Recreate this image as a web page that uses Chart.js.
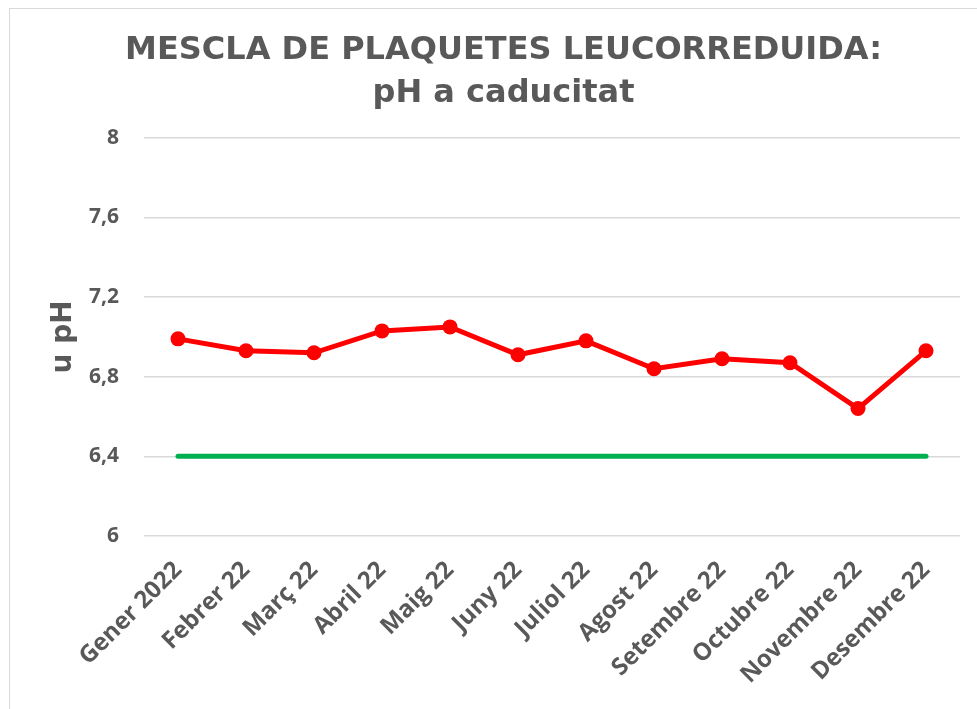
<!DOCTYPE html>
<html>
<head>
<meta charset="utf-8">
<script src="https://cdn.jsdelivr.net/npm/chart.js@4.4.1/dist/chart.umd.min.js"></script>
<style>
  html, body { margin: 0; padding: 0; background: #ffffff; }
  #wrap { position: relative; width: 977px; height: 709px; overflow: hidden; }
  #frame { position: absolute; left: 9px; top: 8px; width: 1000px; height: 800px;
           border-left: 1.5px solid #d9d9d9; border-top: 1.5px solid #d9d9d9; }
  #chart { position: absolute; left: 0; top: 0; }
</style>
</head>
<body>
<div id="wrap">
  <div id="frame"></div>
  <canvas id="chart" width="977" height="709"></canvas>
</div>
<script>
// data
var months = ['Gener 2022', 'Febrer 22', 'Març 22', 'Abril 22', 'Maig 22', 'Juny 22',
  'Juliol 22', 'Agost 22', 'Setembre 22', 'Octubre 22', 'Novembre 22', 'Desembre 22'];
var phValues = [6.99, 6.93, 6.92, 7.03, 7.05, 6.91, 6.98, 6.84, 6.89, 6.87, 6.64, 6.93];
var phLimit = [6.4, 6.4, 6.4, 6.4, 6.4, 6.4, 6.4, 6.4, 6.4, 6.4, 6.4, 6.4];
var yMin = 6, yMax = 8, yStep = 0.4;

var textGray = '#595959';

var config = {
  type: 'line',
  data: {
    labels: months,
    datasets: [
      {
        label: 'pH',
        data: phValues,
        borderColor: '#ff0000',
        backgroundColor: '#ff0000',
        borderWidth: 5,
        pointRadius: 7.5,
        pointHoverRadius: 7.5,
        pointBorderWidth: 0,
        tension: 0
      },
      {
        label: 'Límit',
        data: phLimit,
        borderColor: '#00b050',
        borderWidth: 5,
        borderCapStyle: 'round',
        pointRadius: 0,
        tension: 0
      }
    ]
  },
  options: {
    responsive: false,
    animation: false,
    layout: { padding: { top: 29, left: 47, right: 17, bottom: 0 } },
    plugins: {
      legend: { display: false },
      tooltip: { enabled: false },
      title: {
        display: true,
        text: ['MESCLA DE PLAQUETES LEUCORREDUIDA:', 'pH a caducitat'],
        color: textGray,
        font: { family: "'DejaVu Sans'", size: 32, weight: 'bold', lineHeight: 1.34 },
        padding: { top: 0, bottom: 23 }
      }
    },
    scales: {
      x: {
        offset: true,
        grid: { display: false, drawTicks: false },
        border: { display: false },
        ticks: {
          color: textGray,
          font: { family: "'Open Sans'", size: 24, weight: 'bold' },
          maxRotation: 45,
          minRotation: 45,
          padding: 20,
          autoSkip: false
        },
        afterFit: function (scale) { scale.height = 173; }
      },
      y: {
        min: yMin,
        max: yMax,
        ticks: {
          stepSize: yStep,
          color: textGray,
          font: { family: "'Open Sans'", size: 21, weight: 'bold' },
          padding: 25,
          callback: function (v) { return String(Math.round(v * 10) / 10).replace('.', ','); }
        },
        grid: { color: '#d9d9d9', lineWidth: 1.5, drawTicks: false },
        border: { display: false },
        title: {
          display: true,
          text: 'u pH',
          color: textGray,
          font: { family: "'DejaVu Sans'", size: 28, weight: 'bold' },
          padding: 0
        },
        afterFit: function (scale) { scale.width = 97; }
      }
    }
  }
};

new Chart(document.getElementById('chart'), config);
</script>
</body>
</html>
